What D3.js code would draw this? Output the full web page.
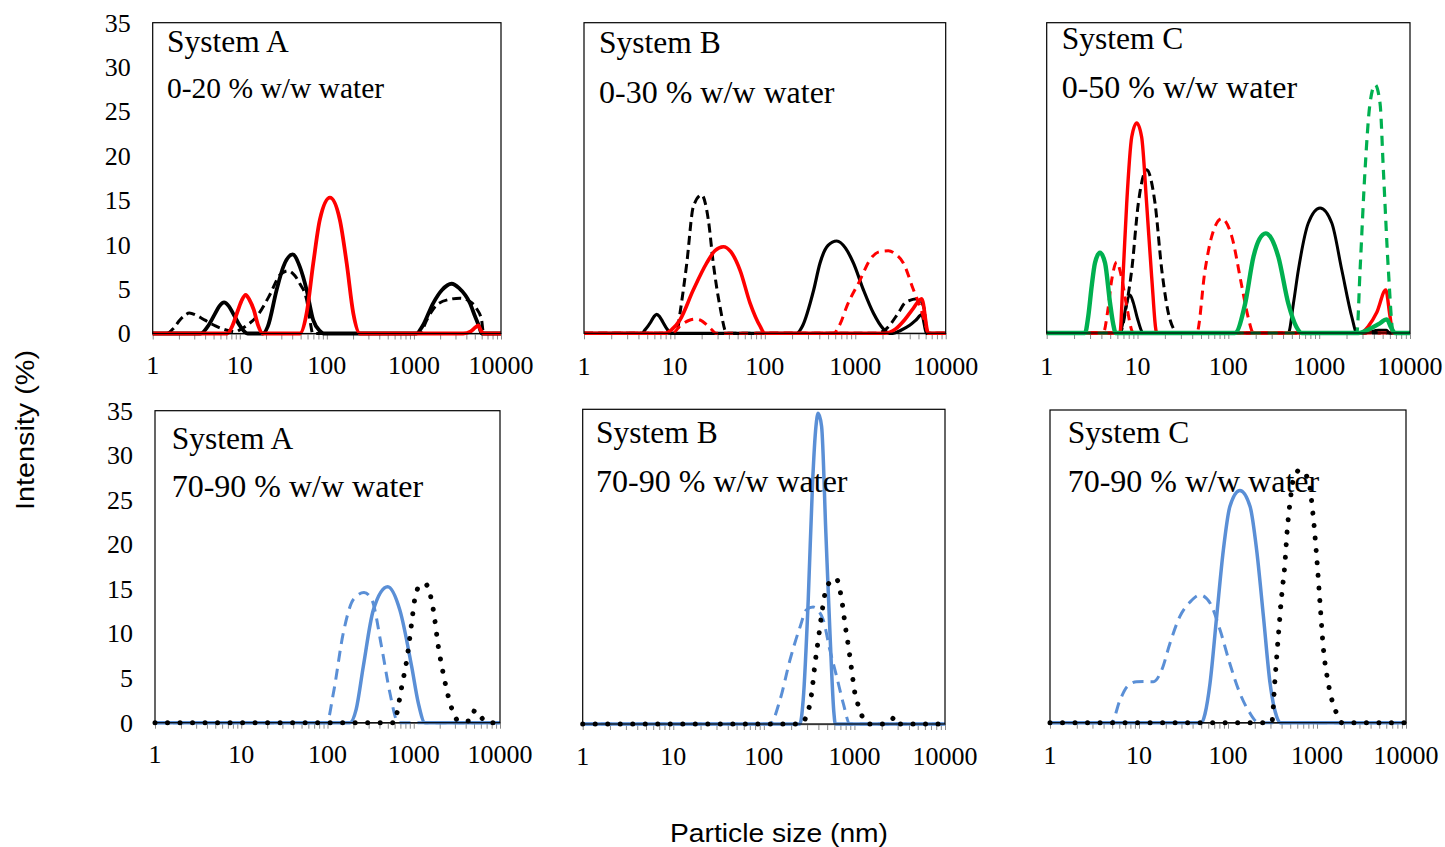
<!DOCTYPE html>
<html><head><meta charset="utf-8">
<script src="https://cdn.jsdelivr.net/npm/d3@7"></script>
<style>html,body{margin:0;padding:0;background:#fff;} svg{display:block;}</style>
</head><body><svg id="chart" width="1445" height="847"></svg>
<script>
// ---------- DATA ----------
const xTickValues = [1, 10, 100, 1000, 10000];
const xTickLabels = ["1", "10", "100", "1000", "10000"];
const yTickValues = [0, 5, 10, 15, 20, 25, 30, 35];
const yTickLabels = ["0", "5", "10", "15", "20", "25", "30", "35"];
const panelTitles = ["System A", "System B", "System C", "System A", "System B", "System C"];
const panelSubtitles = ["0-20 % w/w water", "0-30 % w/w water", "0-50 % w/w water",
                        "70-90 % w/w water", "70-90 % w/w water", "70-90 % w/w water"];
const xAxisTitle = "Particle size (nm)";
const yAxisTitle = "Intensity (%)";

// System A, 0-20 % w/w water  [size nm, intensity %]
const a020BlackSolid = [[1,0],[3.55,0],[4.27,0.77],[5.13,2.13],[5.83,3.08],[6.6,3.5],[7.48,3.08],[8.51,2.13],[10.2,0.77],[12.3,0],
  [18.5,0],[21,0.8],[26.5,4.9],[31.6,7.5],[40.5,8.9],[49,7.5],[58.6,4.9],[69.8,1.5],[83,0.3],[92,0],
  [1070,0],[1250,0.8],[1660,3.4],[2100,4.9],[2710,5.6],[3300,5.1],[4400,3.4],[5000,2.0],[5600,0.8],[6000,0],[10000,0]];
const a020BlackDash = [[1,0],[1.45,0],[1.74,0.6],[2.04,1.5],[2.34,2.05],[2.63,2.3],[3.16,2.05],[3.98,1.5],[5.25,0.85],[7.6,0.3],[9,0.2],
  [10,0.4],[12,0.9],[15.6,1.9],[22,4.3],[29,6.6],[36,7.05],[43,6.5],[49,5.6],[58.6,3.8],[64,1.5],[69,0],
  [1170,0],[1400,1.5],[1820,3.2],[2590,3.85],[3380,3.97],[4400,3.6],[5250,2.8],[5990,1.5],[6240,0.2],[6500,0],[10000,0]];
const a020Red = [[1,0],[7.2,0],[8.3,0.95],[9.55,2.65],[10.6,3.8],[11.7,4.35],[12.9,3.8],[14.5,2.65],[16.2,0.95],[18.3,0],
  [49,0],[58.6,2.3],[69.8,7.9],[83,12.8],[108.6,15.3],[141,12.8],[169,7.9],[201,2.3],[240,0],
  [3680,0],[4500,0.25],[5100,0.7],[5470,0.9],[5900,0.3],[6300,0],[10000,0]];

// System B, 0-30 % w/w water
const b030BlackSolid = [[1,0],[4.35,0],[4.79,0.45],[5.5,1.3],[5.96,1.9],[6.37,2.14],[6.84,1.9],[7.41,1.3],[8.32,0.45],[9.33,0],
  [225,0],[260,0.8],[347,4.9],[407,7.9],[500,9.9],[624,10.4],[780,9.6],[955,7.9],[1230,4.9],[1590,2.25],[2040,0.5],[2400,0],
  [2600,0],[3200,0.35],[4000,0.9],[4700,1.5],[5430,2.1],[6170,0],[10000,0]];
const b030BlackDash = [[1,0],[10.6,0],[11.5,2.2],[13.7,7.9],[16.2,14.3],[20,15.6],[23.7,12.8],[26.9,7.9],[31.9,3.0],[38,0],
  [1700,0],[2200,0.5],[3000,2.3],[3600,3.5],[5000,3.9],[5700,3.0],[6300,0],[10000,0]];
const b030RedDash = [[1,0],[9.5,0],[11.5,0.8],[14.9,1.5],[17,1.6],[19.2,1.5],[24.8,0.6],[29,0],
  [573,0],[690,1.2],[804,3.0],[1130,6.0],[1456,8.3],[1850,9.2],[2320,9.3],[2800,8.9],[3410,7.9],[4400,4.9],[5210,3.0],[5900,1.2],[6400,0],[10000,0]];
const b030Red = [[1,0],[7.9,0],[9.3,0.4],[11.5,1.5],[16.2,4.9],[22.7,7.9],[28,9.3],[34.8,9.76],[42,9.2],[53.2,7.1],[68.6,3.4],[88.5,0.8],[100,0],
  [2100,0],[2800,0.5],[3500,1.5],[4300,2.7],[5430,3.9],[6440,0],[10000,0]];

// System C, 0-50 % w/w water
const c050BlackSolid = [[1,0],[6.4,0],[7.0,1.5],[7.6,3.4],[8.27,4.29],[9.0,3.4],[10.0,1.6],[11.6,0],
  [458,0],[520,3.3],[590,7.1],[760,12.4],[1023,14.1],[1377,12.4],[1775,7.1],[2290,1.8],[2600,0],
  [3200,0],[4500,0.3],[5500,0.3],[6000,0],[10000,0]];
const c050BlackDash = [[1,0],[6.4,0],[7.6,3.3],[8.63,7.1],[10.2,14.6],[12.6,18.4],[15.6,14.6],[18.5,7.1],[22.8,1.5],[28,0],[10000,0]];
const c050RedDash = [[1,0],[4.2,0],[4.7,2.5],[5.2,6.0],[5.9,8.0],[6.6,6.5],[7.6,3.0],[9,0],
  [44.9,0],[55.4,7.1],[65.6,10.9],[84.6,12.9],[109,10.9],[140.5,5.3],[165,1.8],[189,0],[10000,0]];
const c050Red = [[1,0],[6.4,0],[6.98,7.1],[7.6,14.6],[8.63,22.1],[9.8,23.7],[11.1,22.1],[12.6,14.6],[14.3,6.4],[16.3,0],
  [2820,0],[3500,0.8],[4300,2.3],[5410,4.85],[6000,2.0],[6500,0],[10000,0]];
const c050GreenDash = [[1,0],[2600,0],[2820,7.1],[3200,18.4],[3630,25.9],[4130,28],[4680,25.9],[5090,18.4],[5780,7.1],[6560,0],[10000,0]];
const c050Green = [[1,0],[2.64,0],[2.87,1.9],[3.13,5.3],[3.4,7.9],[3.86,9.06],[4.39,7.9],[4.98,3.4],[5.4,1.0],[5.75,0],
  [118,0],[153,3.3],[189,8.6],[220,10.6],[258,11.24],[300,10.6],[355,8.6],[458,3.3],[560,0.7],[643,0],
  [2700,0],[3500,0.4],[4500,1.0],[5550,1.54],[6200,0.6],[6850,0],[10000,0]];

// System A, 70-90 % w/w water
const a7090BlueDash = [[1,0],[98,0],[117,3.3],[152,10],[199,13.8],[265,14.6],[326,13.8],[424,8.5],[530,3.3],[662,0],[10000,0]];
const a7090Blue = [[1,0],[182,0],[215,1.5],[260,6.3],[339,12.6],[499,15.26],[692,12.6],[946,6.3],[1130,2.2],[1350,0],[10000,0]];
const a7090Dotted = [[1,0],[600,0],[630,0.8],[724,4.0],[829,7.0],[946,11.2],[1033,14.0],[1180,15.4],[1350,15.6],[1690,12.6],[1930,8.5],
  [2200,5.5],[2520,2.9],[2880,1.1],[3300,0.2],[4490,0.2],[5130,1.4],[5860,0.8],[7000,0],[10000,0]];

// System B, 70-90 % w/w water
const b7090BlueDash = [[1,0],[117,0],[151,2.7],[194,7.1],[251,10.8],[295,12.7],[350,13.0],[400,12.6],[452,11.6],[537,8.2],[636,5.3],[753,2.3],[891,0],[10000,0]];
const b7090Blue = [[1,0],[250,0],[272,2.7],[309,13.8],[345,26.8],[376,33.1],[398,34.55],[434,33.1],[484,21.2],[537,10.1],[594,1.2],[615,0],[10000,0]];
const b7090Dotted = [[1,0],[260,0],[284,0.5],[337,3.4],[367,6.7],[398,9.3],[436,12.3],[473,14.5],[537,15.8],[626,16.2],[724,13.8],[795,10.8],
  [860,8.6],[932,6.0],[1013,3.4],[1100,2.1],[1200,1.0],[1400,0],[2200,0],[2550,0.4],[2800,0.8],[3100,0],[10000,0]];

// System C, 70-90 % w/w water
const c7090BlueDash = [[1,0],[4.9,0],[6.1,2.5],[7.3,4.0],[9.4,4.59],[12,4.6],[14.5,4.59],[18,5.9],[22.3,8.9],[28.8,11.9],[37.4,13.5],[48.4,14.3],
  [62.8,13.4],[81.3,10.4],[105,6.6],[136,3.3],[177,1.05],[210,0.1],[230,0],[10000,0]];
const c7090Blue = [[1,0],[50.6,0],[55.2,1.0],[62.8,4.4],[74.6,11.9],[88.6,19.3],[105,24.2],[136,26],[177,24.2],[210,19.3],[250,11.9],[297,4.4],[352,0.7],[384,0],[10000,0]];
const c7090Dotted = [[1,0],[310,0],[337,4.8],[367,9.6],[400,14.1],[436,17.8],[463,21.6],[497,24.6],[542,27.2],[645,28.3],[798,27.2],[908,23],
  [991,18.6],[1081,13.4],[1175,8.5],[1340,4.4],[1660,1.05],[1900,0],[10000,0]];

// ---------- STYLES ----------
const RED = "#ff0000", GREEN = "#00b050", BLUE = "#5a8fd6", BLACK = "#000000";
const st = {
  blackSolid: w => ({stroke: BLACK, width: w, dash: null}),
  blackDash:  w => ({stroke: BLACK, width: w, dash: "9,5"}),
  red:        w => ({stroke: RED, width: w, dash: null}),
  redDash:    w => ({stroke: RED, width: w, dash: "9,6"}),
  green:      w => ({stroke: GREEN, width: w, dash: null}),
  greenDash:  w => ({stroke: GREEN, width: w, dash: "10,7"}),
  blue:       w => ({stroke: BLUE, width: w, dash: null}),
  blueDash:   w => ({stroke: BLUE, width: w, dash: "11,7"}),
  dotted:     w => ({stroke: BLACK, width: w, dash: "0.01,12.5", cap: "round"})
};

// ---------- LAYOUT ----------
const panels = [
  {l:152.7, t:22.7, r:501, b:333.5, yAxis:true, tx:167, ty:51.7, sy:98, lblY:374, subSize:29.5,
   series:[[a020BlackDash, st.blackDash(3)], [a020BlackSolid, st.blackSolid(3.8)], [a020Red, st.red(3.8)]]},
  {l:584, t:22.7, r:945.7, b:333.3, yAxis:false, tx:599, ty:53.3, sy:103.3, lblY:375, subSize:32,
   series:[[b030BlackSolid, st.blackSolid(3.2)], [b030BlackDash, st.blackDash(3)], [b030RedDash, st.redDash(3)], [b030Red, st.red(3.6)]]},
  {l:1046.7, t:22.7, r:1410, b:333, yAxis:false, tx:1061.7, ty:49.3, sy:97.7, lblY:375, subSize:32,
   series:[[c050BlackSolid, st.blackSolid(3)], [c050BlackDash, st.blackDash(3)], [c050RedDash, st.redDash(3)], [c050Red, st.red(3.4)],
           [c050GreenDash, st.greenDash(3.2)], [c050Green, st.green(4.4)]]},
  {l:155, t:410.7, r:500, b:722.7, yAxis:true, tx:171.7, ty:449.3, sy:497.3, lblY:763, subSize:32,
   series:[[a7090BlueDash, st.blueDash(3)], [a7090Blue, st.blue(3.5)], [a7090Dotted, st.dotted(5)]]},
  {l:582.7, t:409.3, r:945, b:724, yAxis:false, tx:596, ty:442.7, sy:491.7, lblY:765, subSize:32,
   series:[[b7090BlueDash, st.blueDash(3)], [b7090Blue, st.blue(3.5)], [b7090Dotted, st.dotted(5)]]},
  {l:1050, t:410, r:1406, b:722.7, yAxis:false, tx:1067.7, ty:443.3, sy:491.7, lblY:764, subSize:32,
   series:[[c7090BlueDash, st.blueDash(3)], [c7090Blue, st.blue(3.5)], [c7090Dotted, st.dotted(5)]]}
];

const svg = d3.select("#chart");
const SERIF = "'Liberation Serif','Times New Roman',serif";
const SANS = "'Liberation Sans',Arial,sans-serif";

panels.forEach((p, i) => {
  const x = d3.scaleLog().domain([1, 10000]).range([p.l, p.r]);
  const y = d3.scaleLinear().domain([0, 35]).range([p.b, p.t]);
  const g = svg.append("g");

  // x axis (gray baseline with log minor ticks)
  const ax = d3.axisBottom(x).tickValues(x.ticks()).tickSize(6).tickSizeOuter(0)
    .tickFormat(() => "");
  const axG = g.append("g").attr("transform", `translate(0,${p.b})`).call(ax);
  axG.select(".domain").attr("stroke", "#898989").attr("stroke-width", 1.5);
  axG.selectAll(".tick line").attr("stroke", "#898989").attr("stroke-width", 1);

  // x tick labels
  g.append("g").selectAll("text").data(xTickValues).join("text")
    .attr("x", d => x(d)).attr("y", p.lblY)
    .attr("text-anchor", "middle")
    .style("font-family", SERIF).style("font-size", "26px").attr("fill", "#000")
    .text((d, k) => xTickLabels[k]);

  // y axis labels
  if (p.yAxis) {
    const ay = d3.axisLeft(y).tickValues(yTickValues).tickSize(0).tickPadding(22)
      .tickFormat((d, k) => yTickLabels[k]);
    const ayG = g.append("g").attr("transform", `translate(${p.l},0)`).call(ay);
    ayG.select(".domain").remove();
    ayG.selectAll("text").style("font-family", SERIF).style("font-size", "26px").attr("fill", "#000");
  }

  // curves
  const line = d3.line().x(d => x(d[0])).y(d => y(d[1])).curve(d3.curveMonotoneX);
  p.series.forEach(([data, s]) => {
    g.append("path").datum(data).attr("d", line)
      .attr("fill", "none").attr("stroke", s.stroke).attr("stroke-width", s.width)
      .attr("stroke-dasharray", s.dash).attr("stroke-linecap", s.cap || "butt")
      .attr("stroke-linejoin", "round");
  });

  // frame
  g.append("rect").attr("x", p.l).attr("y", p.t).attr("width", p.r - p.l).attr("height", p.b - p.t)
    .attr("fill", "none").attr("stroke", "#000").attr("stroke-width", 1.2);

  // panel text
  g.append("text").attr("x", p.tx).attr("y", p.ty).text(panelTitles[i])
    .style("font-family", SERIF).style("font-size", "31.5px").attr("fill", "#000");
  g.append("text").attr("x", p.tx).attr("y", p.sy).text(panelSubtitles[i])
    .style("font-family", SERIF).style("font-size", p.subSize + "px").attr("fill", "#000");
});

// axis titles
svg.append("text").attr("x", 779).attr("y", 842).attr("text-anchor", "middle")
  .attr("textLength", 218).attr("lengthAdjust", "spacingAndGlyphs")
  .style("font-family", SANS).style("font-size", "25px").attr("fill", "#000").text(xAxisTitle);
svg.append("text").attr("transform", "translate(34,430) rotate(-90)").attr("text-anchor", "middle")
  .attr("textLength", 160).attr("lengthAdjust", "spacingAndGlyphs")
  .style("font-family", SANS).style("font-size", "25px").attr("fill", "#000").text(yAxisTitle);
</script></body></html>
